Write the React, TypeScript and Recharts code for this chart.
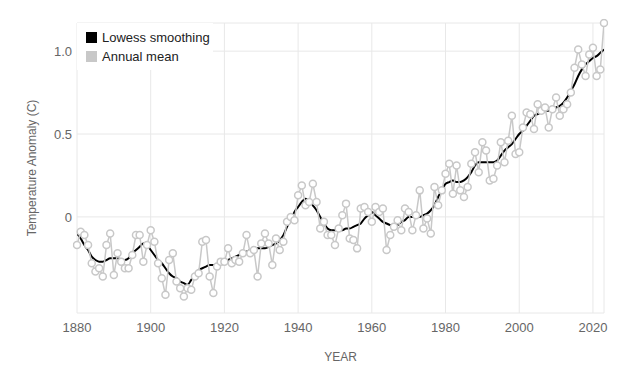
import { LineChart, Line, XAxis, YAxis, CartesianGrid, Legend } from "recharts";

const firstYear = 1880;

// GISTEMP global annual mean, degrees C relative to 1951-1980
const annualMean: number[] = [
  -0.17, -0.09, -0.11, -0.17, -0.28, -0.33, -0.31, -0.36, -0.17, -0.1,
  -0.35, -0.22, -0.27, -0.31, -0.31, -0.23, -0.11, -0.11, -0.27, -0.17,
  -0.08, -0.15, -0.28, -0.37, -0.47, -0.26, -0.22, -0.39, -0.43, -0.48,
  -0.43, -0.44, -0.36, -0.34, -0.15, -0.14, -0.36, -0.46, -0.3, -0.27,
  -0.27, -0.19, -0.28, -0.26, -0.27, -0.22, -0.11, -0.22, -0.2, -0.36,
  -0.16, -0.1, -0.16, -0.29, -0.13, -0.2, -0.15, -0.03, 0.0, -0.02,
  0.13, 0.19, 0.07, 0.09, 0.2, 0.09, -0.07, -0.03, -0.11, -0.11,
  -0.17, -0.07, 0.01, 0.08, -0.13, -0.14, -0.19, 0.05, 0.06, 0.03,
  -0.03, 0.06, 0.03, 0.05, -0.2, -0.11, -0.06, -0.02, -0.08, 0.05,
  0.03, -0.08, 0.01, 0.16, -0.07, -0.01, -0.1, 0.18, 0.07, 0.16,
  0.26, 0.32, 0.14, 0.31, 0.16, 0.12, 0.18, 0.32, 0.39, 0.27,
  0.45, 0.4, 0.22, 0.23, 0.31, 0.45, 0.33, 0.46, 0.61, 0.38,
  0.39, 0.54, 0.63, 0.62, 0.53, 0.68, 0.64, 0.66, 0.54, 0.65,
  0.72, 0.61, 0.65, 0.68, 0.75, 0.9, 1.01, 0.92, 0.85, 0.98,
  1.02, 0.85, 0.89, 1.17,
];

const lowessSmoothing: number[] = [
  -0.1, -0.13, -0.17, -0.2, -0.24, -0.26, -0.27, -0.27, -0.26, -0.25,
  -0.25, -0.25, -0.26, -0.26, -0.25, -0.22, -0.2, -0.18, -0.16, -0.17,
  -0.2, -0.23, -0.26, -0.28, -0.31, -0.34, -0.36, -0.37, -0.39, -0.4,
  -0.41, -0.38, -0.35, -0.32, -0.31, -0.3, -0.29, -0.29, -0.29, -0.28,
  -0.27, -0.26, -0.25, -0.24, -0.23, -0.22, -0.21, -0.2, -0.19, -0.19,
  -0.19, -0.19, -0.18, -0.17, -0.16, -0.14, -0.11, -0.06, -0.02, 0.03,
  0.06, 0.09, 0.11, 0.1, 0.07, 0.04, 0.0, -0.04, -0.07, -0.08,
  -0.08, -0.08, -0.08, -0.07, -0.07, -0.06, -0.05, -0.04, -0.01, 0.01,
  0.03, 0.01, -0.01, -0.03, -0.04, -0.05, -0.06, -0.05, -0.03, -0.02,
  0.0, 0.0, 0.0, 0.0, 0.01, 0.02, 0.04, 0.07, 0.12, 0.16,
  0.2, 0.21, 0.22, 0.21, 0.21, 0.22, 0.24, 0.27, 0.31, 0.33,
  0.33, 0.33, 0.33, 0.33, 0.34, 0.37, 0.4, 0.42, 0.44, 0.47,
  0.5, 0.52, 0.55, 0.58, 0.61, 0.62, 0.63, 0.64, 0.64, 0.65,
  0.66, 0.67, 0.69, 0.72, 0.76, 0.8, 0.85, 0.89, 0.92, 0.94,
  0.96, 0.97, 0.99, 1.01,
];

const xTicks = [1880, 1900, 1920, 1940, 1960, 1980, 2000, 2020];
const yTicks = [0, 0.5, 1.0];

const seriesNames = { lowess: "Lowess smoothing", annual: "Annual mean" };
const seriesColors = { lowess: "#000000", annual: "#c8c8c8" };

const chartData = annualMean.map((v, i) => ({
  year: firstYear + i,
  annual: v,
  lowess: lowessSmoothing[i],
}));

const font = "'Liberation Sans', Arial, sans-serif";

const ChartLegend = () => (
  <div
    style={{
      background: "#fff",
      width: 136,
      padding: "5px 0 4px 9px",
      boxSizing: "border-box",
      fontFamily: font,
      fontSize: 13,
      color: "#222",
      whiteSpace: "nowrap",
    }}
  >
    {(["lowess", "annual"] as const).map((k) => (
      <div key={k} style={{ display: "flex", alignItems: "center", height: 19 }}>
        <div
          style={{
            width: 11,
            height: 11,
            background: seriesColors[k],
            marginRight: 5,
            flexShrink: 0,
          }}
        />
        <span>{seriesNames[k]}</span>
      </div>
    ))}
  </div>
);

export default function App() {
  return (
    <div style={{ position: "absolute", left: 0, top: 0 }}>
      <LineChart
        width={626}
        height={389}
        data={chartData}
        margin={{ top: 23, right: 22, bottom: 26, left: 37 }}
      >
        <CartesianGrid stroke="#e8e8e8" strokeWidth={1} />
        <XAxis
          dataKey="year"
          type="number"
          domain={[1880, 2023]}
          ticks={xTicks}
          allowDataOverflow
          axisLine={false}
          tickLine={false}
          tickSize={0}
          tickMargin={10}
          height={50}
          tick={{ fill: "#666", fontSize: 13, fontFamily: font }}
          label={{
            value: "YEAR",
            position: "insideBottom",
            offset: 2,
            fill: "#666",
            fontSize: 12,
            fontFamily: font,
          }}
        />
        <YAxis
          type="number"
          domain={[-0.58, 1.17]}
          ticks={yTicks}
          allowDataOverflow
          axisLine={false}
          tickLine={false}
          tickSize={0}
          tickMargin={5}
          width={40}
          tickFormatter={(v: number) => (v === 0 ? "0" : v.toFixed(1))}
          tick={{ fill: "#666", fontSize: 13, fontFamily: font }}
          label={{
            value: "Temperature Anomaly (C)",
            angle: -90,
            position: "insideLeft",
            offset: -5,
            style: { textAnchor: "middle" },
            fill: "#666",
            fontSize: 12,
            fontFamily: font,
          }}
        />
        <Legend
          layout="vertical"
          align="center"
          verticalAlign="middle"
          wrapperStyle={{ left: 77, top: 23, width: 136 }}
          content={() => <ChartLegend />}
        />
        <Line
          type="monotone"
          dataKey="lowess"
          name={seriesNames.lowess}
          stroke={seriesColors.lowess}
          strokeWidth={2}
          dot={false}
          isAnimationActive={false}
        />
        <Line
          type="linear"
          dataKey="annual"
          name={seriesNames.annual}
          stroke={seriesColors.annual}
          strokeWidth={1.5}
          dot={{
            r: 3.5,
            fill: "#fff",
            stroke: seriesColors.annual,
            strokeWidth: 1.5,
            clipDot: false,
          }}
          isAnimationActive={false}
        />
      </LineChart>
    </div>
  );
}
